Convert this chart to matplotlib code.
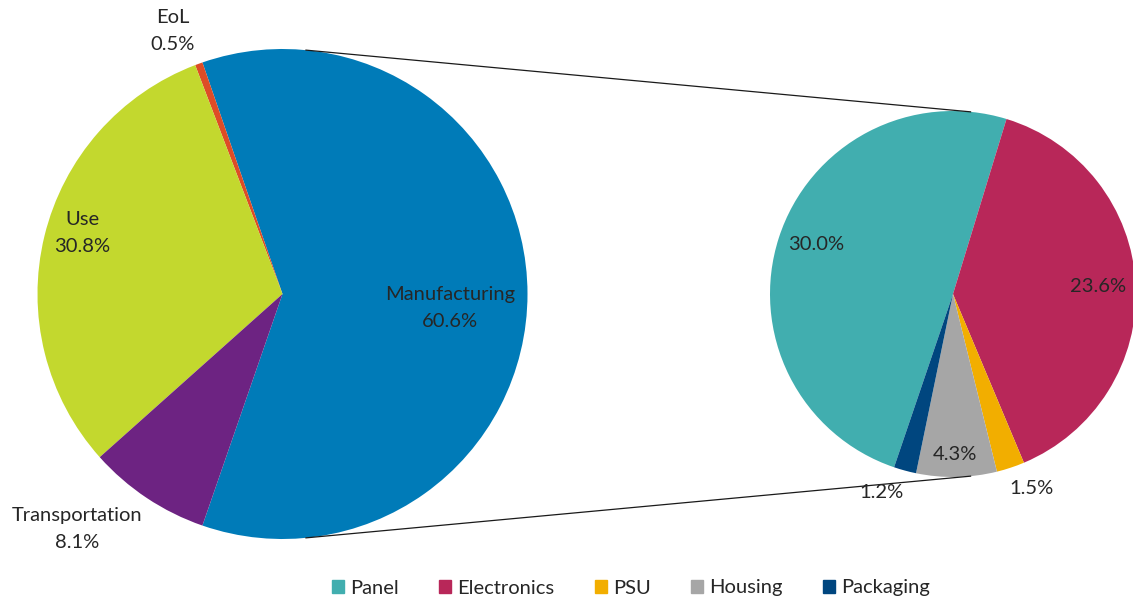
import matplotlib.pyplot as plt
import numpy as np

# Donnees
phases = ['Manufacturing', 'EoL', 'Use', 'Transportation']
phase_pct = [60.6, 0.5, 30.8, 8.1]
phase_colors = ['#007BB8', '#DE4C26', '#C3D82E', '#6D2382']

parts = ['Panel', 'Electronics', 'PSU', 'Housing', 'Packaging']
part_pct = [30.0, 23.6, 1.5, 4.3, 1.2]
part_colors = ['#41AEAF', '#B82759', '#F2AE00', '#A6A6A6', '#00467F']

# Positions (pixels) des etiquettes
phase_lab_xy = [(450, 308), (173, 31), (82, 233), (77, 529)]
part_lab_xy = [(816, 244), (1098, 286), (1031, 488), (955, 455), (881, 492)]

W, H = 1133, 599
fig = plt.figure(figsize=(W / 100, H / 100), dpi=100)
ax = fig.add_axes([0, 0, 1, 1])

plt.rcParams['font.family'] = ['Lato', 'DejaVu Sans']
txt_col = '#262626'
fs = 14.5

# Camembert principal : Manufacturing centre sur la droite
c1 = (282.5, H - 294)
r1 = 245
a_manu = phase_pct[0] / 100 * 360
ax.pie(phase_pct, colors=phase_colors, center=c1, radius=r1,
       startangle=-a_manu / 2, counterclock=True, frame=True,
       wedgeprops=dict(linewidth=0))

# Camembert secondaire (detail de Manufacturing)
c2 = (953, H - 294)
r2 = 183
a_panel = part_pct[0] / sum(part_pct) * 360
ax.pie(part_pct, colors=part_colors, center=c2, radius=r2,
       startangle=73 + a_panel, counterclock=False, frame=True,
       wedgeprops=dict(linewidth=0))

ax.set_xlim(0, W)
ax.set_ylim(0, H)
ax.set_aspect('equal')
ax.axis('off')

# Lignes de liaison
ang = np.deg2rad(84.5)
for s in (1, -1):
    x1 = c1[0] + r1 * np.cos(ang)
    y1 = c1[1] + s * r1 * np.sin(ang)
    x2 = c2[0] + r2 * np.cos(ang)
    y2 = c2[1] + s * r2 * np.sin(ang)
    ax.plot([x1, x2], [y1, y2], color='#1a1a1a', lw=0.9)

for name, p, (x, y) in zip(phases, phase_pct, phase_lab_xy):
    ax.text(x, H - y, f'{name}\n{p:.1f}%', ha='center', va='center',
            fontsize=fs, color=txt_col, linespacing=1.75)

for p, (x, y) in zip(part_pct, part_lab_xy):
    ax.text(x, H - y, f'{p:.1f}%', ha='center', va='center',
            fontsize=fs, color=txt_col)

# Legende
handles = [plt.Rectangle((0, 0), 1, 1, color=c) for c in part_colors]
ax.legend(handles, parts, loc='center', bbox_to_anchor=(631 / W, 1 - 588 / H),
          ncol=5, frameon=False, fontsize=fs, handlelength=0.6, handleheight=0.6,
          handletextpad=0.3, columnspacing=2.0, labelcolor=txt_col)

fig.savefig('out.png', dpi=100)
